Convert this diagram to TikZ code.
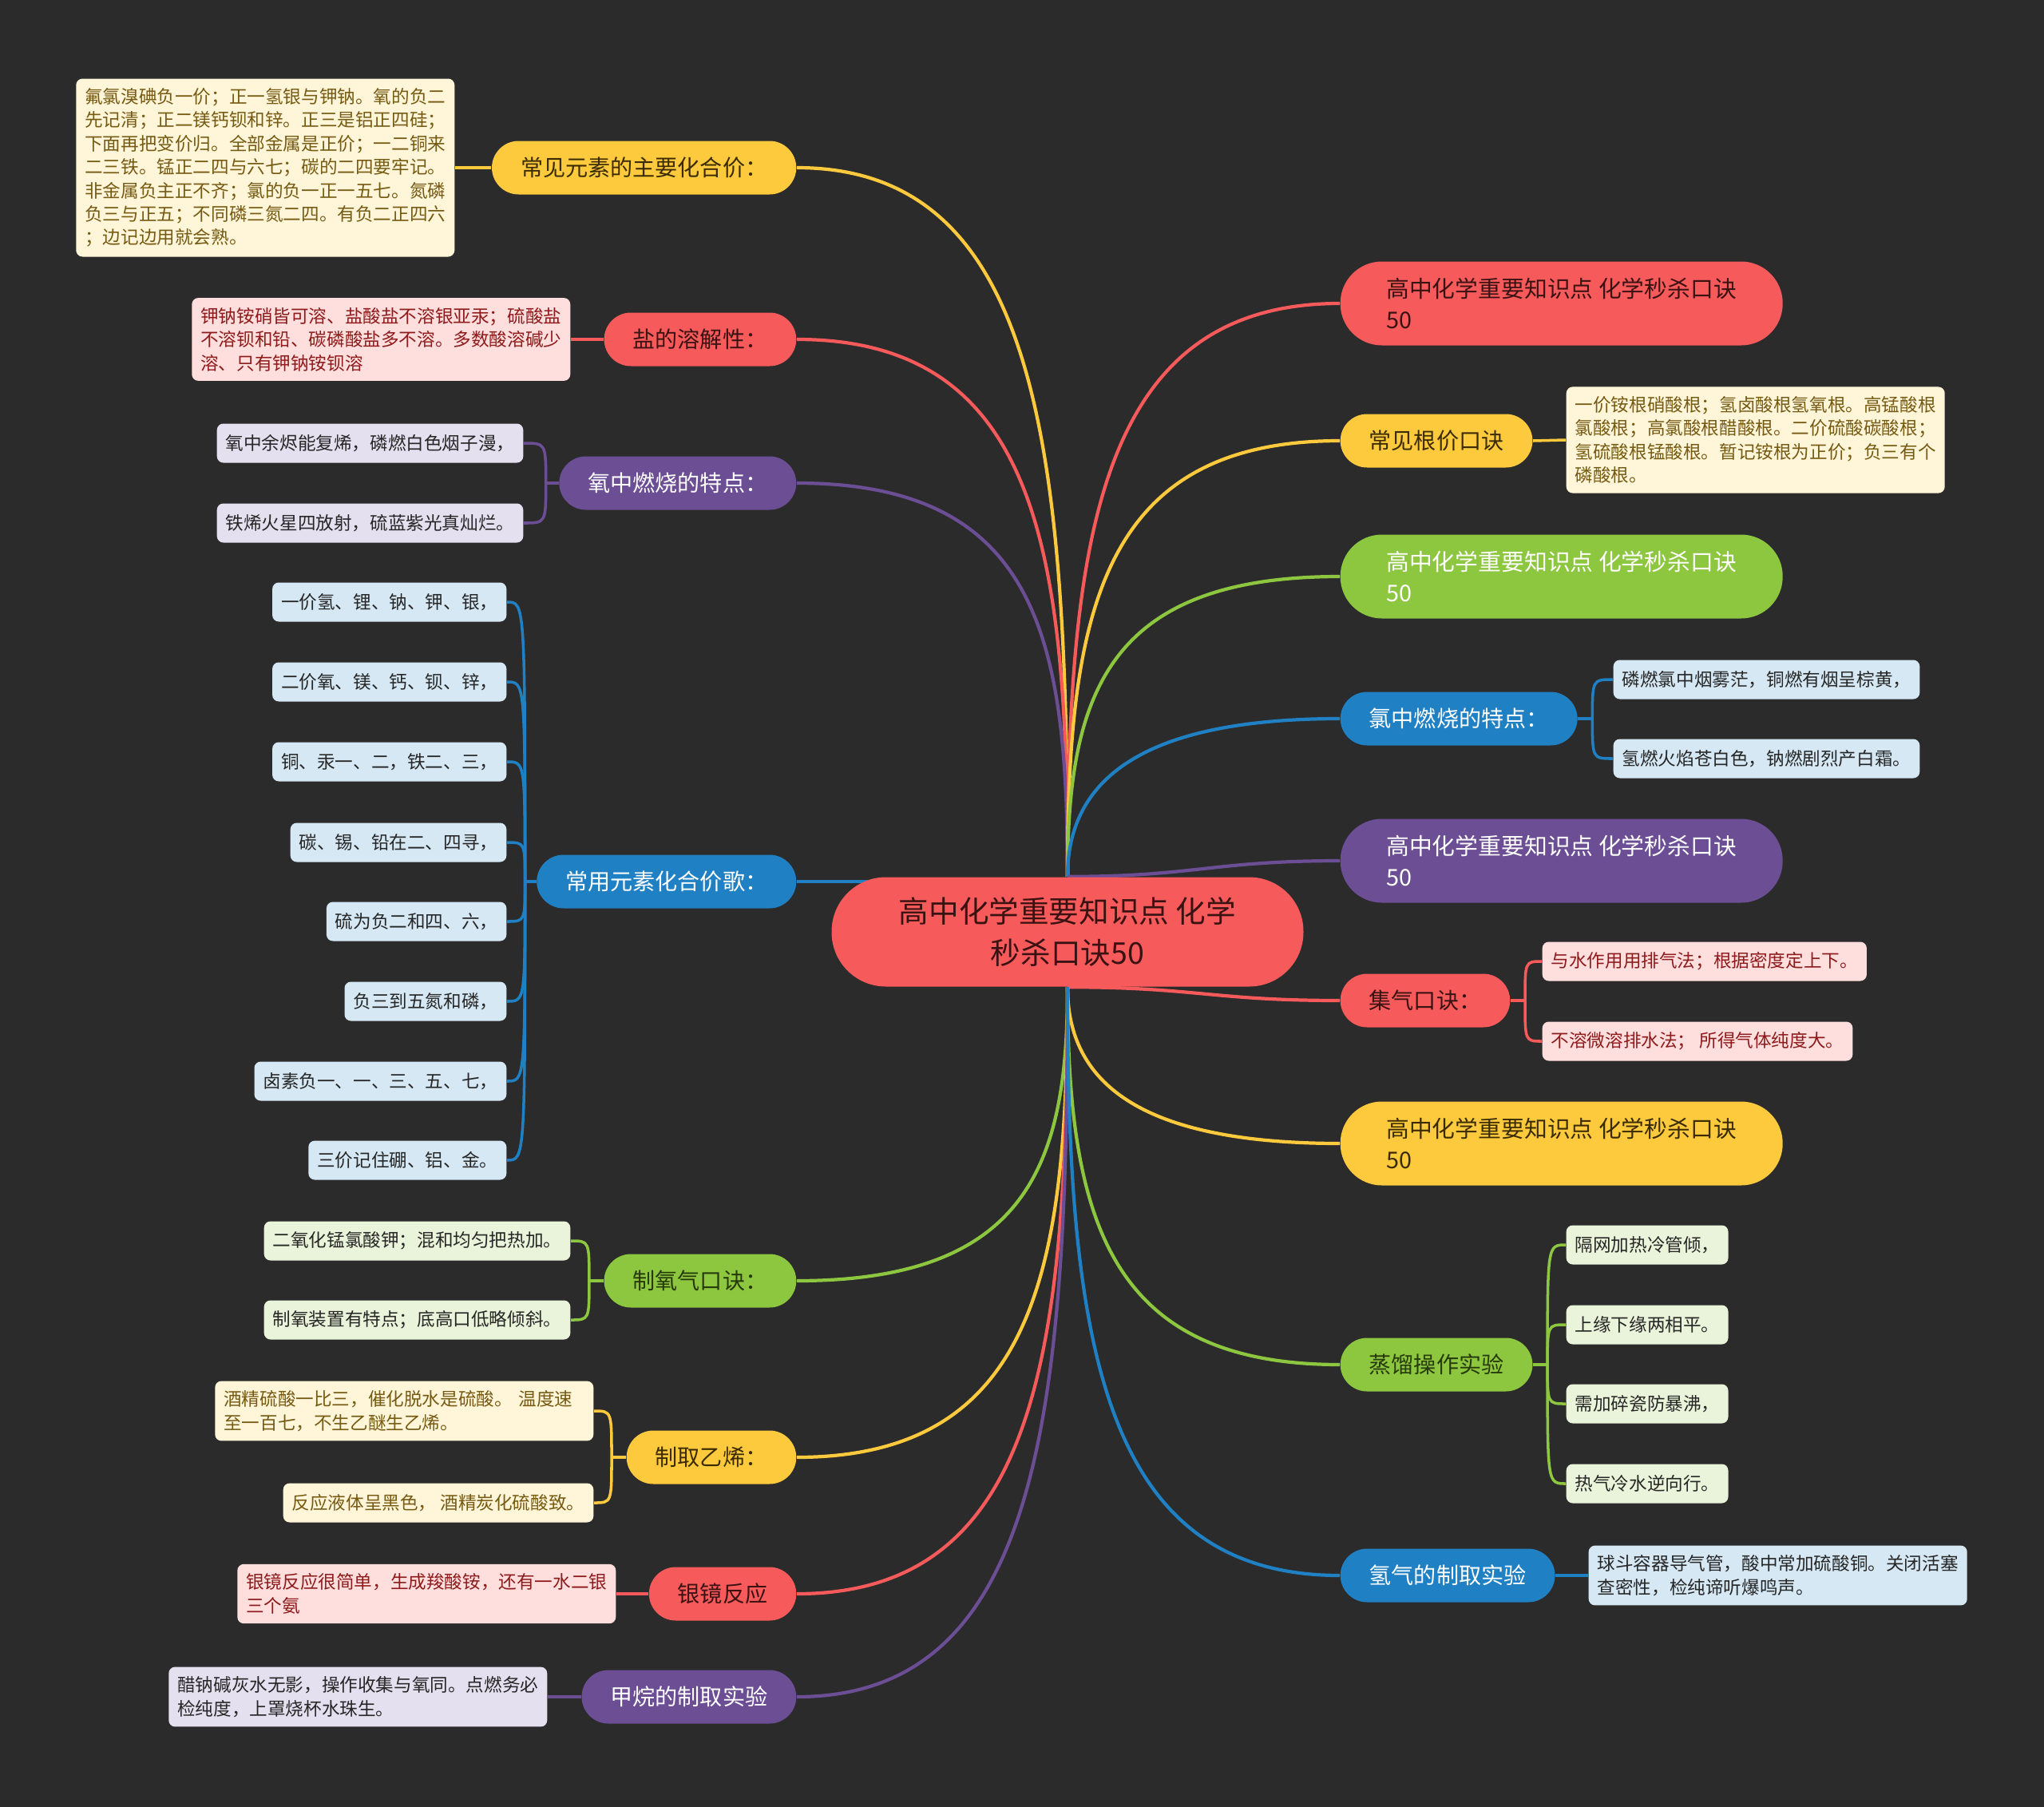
\documentclass[tikz,border=0pt]{standalone}
\usepackage{fontspec}
\setmainfont{Noto Sans CJK SC}
\usetikzlibrary{positioning, calc}
\usepackage{xcolor}
\definecolor{mapbg}{HTML}{2B2B2B}
\definecolor{mapred}{HTML}{F65A5B}
\definecolor{mapyellow}{HTML}{FDC93D}
\definecolor{mappurple}{HTML}{6B4E94}
\definecolor{mapblue}{HTML}{1F80C4}
\definecolor{mapgreen}{HTML}{8DC63F}
\definecolor{redink}{HTML}{3A1212}
\definecolor{yellowink}{HTML}{3A2C00}
\definecolor{greenink}{HTML}{263A0A}
\definecolor{leafyellow}{HTML}{FFF6DA}
\definecolor{leafred}{HTML}{FFDEDE}
\definecolor{leafpurple}{HTML}{E4E0EF}
\definecolor{leafblue}{HTML}{D5E8F4}
\definecolor{leafgreen}{HTML}{EAF4DA}
\definecolor{brownink}{HTML}{765A12}
\definecolor{wineink}{HTML}{8E1B1B}
\pgfdeclarelayer{bg}
\pgfdeclarelayer{lines}
\pgfsetlayers{bg,lines,main}

\begin{document}
\begin{tikzpicture}[
  root/.style={
    rectangle, rounded corners=0.68cm,
    minimum width=5.91cm, minimum height=1.37cm,
    fill=mapred, text=redink, align=center,
    font=\fontsize{10.7}{14.9}\selectfont
  },
  topic/.style={
    rectangle, rounded corners=0.335cm,
    minimum height=0.67cm, inner xsep=0.36cm, inner ysep=0pt,
    font=\fontsize{8}{11}\selectfont
  },
  bigtopic/.style={
    rectangle, rounded corners=0.52cm,
    minimum height=1.05cm, minimum width=5.54cm, inner xsep=0.52cm, align=left,
    font=\fontsize{8.2}{11.1}\selectfont
  },
  leaf/.style={
    rectangle, rounded corners=0.08cm,
    minimum height=0.49cm, inner xsep=0.11cm, inner ysep=0.12cm,
    align=left, font=\fontsize{6.43}{8.36}\selectfont
  },
  wide/.style={text width=4.52cm},
  rtopic/.style={topic, fill=mapred, text=redink},
  ytopic/.style={topic, fill=mapyellow, text=yellowink},
  ptopic/.style={topic, fill=mappurple, text=white},
  btopic/.style={topic, fill=mapblue, text=white},
  gtopic/.style={topic, fill=mapgreen, text=greenink},
  rleaf/.style={leaf, fill=leafred, text=wineink},
  yleaf/.style={leaf, fill=leafyellow, text=brownink},
  pleaf/.style={leaf, fill=leafpurple, text=black!85},
  bleaf/.style={leaf, fill=leafblue, text=black!85},
  gleaf/.style={leaf, fill=leafgreen, text=black!85},
  link/.style={line width=1.2pt},
  twig/.style={line width=1pt}
]
  \useasboundingbox (0,0) rectangle (25.6,-22.63);
  \begin{pgfonlayer}{bg}
    \fill[mapbg] (0,0) rectangle (25.6,-22.63);
  \end{pgfonlayer}

  \node[root] (root) at (13.37,-11.67) {高中化学重要知识点 化学\\秒杀口诀50};

  % left side
  \node[ytopic, anchor=east] (valence) at (9.98,-2.10) {常见元素的主要化合价：};
  \node[rtopic, anchor=east] (salt) at (9.98,-4.25) {盐的溶解性：};
  \node[ptopic, anchor=east] (oxy) at (9.98,-6.05) {氧中燃烧的特点：};
  \node[btopic, anchor=east] (song) at (9.98,-11.04) {常用元素化合价歌：};
  \node[gtopic, anchor=east] (otwo) at (9.98,-16.04) {制氧气口诀：};
  \node[ytopic, anchor=east] (ethene) at (9.98,-18.25) {制取乙烯：};
  \node[rtopic, anchor=east] (mirror) at (9.98,-19.96) {银镜反应};
  \node[ptopic, anchor=east] (methane) at (9.98,-21.25) {甲烷的制取实验};

  \node[yleaf, wide, anchor=east] (valence1) at (5.70,-2.10) {氟氯溴碘负一价；正一氢银与钾钠。氧的负二\\先记清；正二镁钙钡和锌。正三是铝正四硅；\\下面再把变价归。全部金属是正价；一二铜来\\二三铁。锰正二四与六七；碳的二四要牢记。\\非金属负主正不齐；氯的负一正一五七。氮磷\\负三与正五；不同磷三氮二四。有负二正四六\\；边记边用就会熟。};
  \node[rleaf, wide, anchor=east] (salt1) at (7.15,-4.25) {钾钠铵硝皆可溶、盐酸盐不溶银亚汞；硫酸盐\\不溶钡和铅、碳磷酸盐多不溶。多数酸溶碱少\\溶、只有钾钠铵钡溶};
  \node[pleaf, anchor=east] (oxy1) at (6.56,-5.55) {氧中余烬能复烯，磷燃白色烟子漫，};
  \node[pleaf, anchor=east] (oxy2) at (6.56,-6.55) {铁烯火星四放射，硫蓝紫光真灿烂。};
  \node[bleaf, anchor=east] (song1) at (6.35,-7.54) {一价氢、锂、钠、钾、银，};
  \node[bleaf, anchor=east] (song2) at (6.35,-8.54) {二价氧、镁、钙、钡、锌，};
  \node[bleaf, anchor=east] (song3) at (6.35,-9.54) {铜、汞一、二，铁二、三，};
  \node[bleaf, anchor=east] (song4) at (6.35,-10.55) {碳、锡、铅在二、四寻，};
  \node[bleaf, anchor=east] (song5) at (6.35,-11.54) {硫为负二和四、六，};
  \node[bleaf, anchor=east] (song6) at (6.35,-12.54) {负三到五氮和磷，};
  \node[bleaf, anchor=east] (song7) at (6.35,-13.54) {卤素负一、一、三、五、七，};
  \node[bleaf, anchor=east] (song8) at (6.35,-14.53) {三价记住硼、铝、金。};
  \node[gleaf, anchor=east] (otwo1) at (7.15,-15.54) {二氧化锰氯酸钾；混和均匀把热加。};
  \node[gleaf, anchor=east] (otwo2) at (7.15,-16.53) {制氧装置有特点；底高口低略倾斜。};
  \node[yleaf, wide, anchor=east] (ethene1) at (7.44,-17.67) {酒精硫酸一比三，催化脱水是硫酸。 温度速\\至一百七，不生乙醚生乙烯。};
  \node[yleaf, anchor=east] (ethene2) at (7.44,-18.82) {反应液体呈黑色， 酒精炭化硫酸致。};
  \node[rleaf, wide, anchor=east] (mirror1) at (7.72,-19.96) {银镜反应很简单，生成羧酸铵，还有一水二银\\三个氨};
  \node[pleaf, wide, anchor=east] (methane1) at (6.86,-21.25) {醋钠碱灰水无影，操作收集与氧同。点燃务必\\检纯度，上罩烧杯水珠生。};

  % right side
  \node[bigtopic, fill=mapred, text=redink, anchor=west] (titleA) at (16.78,-3.80) {高中化学重要知识点 化学秒杀口诀\\50};
  \node[ytopic, anchor=west] (radical) at (16.78,-5.52) {常见根价口诀};
  \node[bigtopic, fill=mapgreen, text=white, anchor=west] (titleB) at (16.78,-7.22) {高中化学重要知识点 化学秒杀口诀\\50};
  \node[btopic, anchor=west] (chlor) at (16.78,-9.00) {氯中燃烧的特点：};
  \node[bigtopic, fill=mappurple, text=white, anchor=west] (titleC) at (16.78,-10.78) {高中化学重要知识点 化学秒杀口诀\\50};
  \node[rtopic, anchor=west] (gas) at (16.78,-12.53) {集气口诀：};
  \node[bigtopic, fill=mapyellow, text=yellowink, anchor=west] (titleD) at (16.78,-14.32) {高中化学重要知识点 化学秒杀口诀\\50};
  \node[gtopic, anchor=west] (distil) at (16.78,-17.09) {蒸馏操作实验};
  \node[btopic, anchor=west] (hydro) at (16.78,-19.73) {氢气的制取实验};

  \node[yleaf, wide, anchor=west] (radical1) at (19.61,-5.51) {一价铵根硝酸根；氢卤酸根氢氧根。高锰酸根\\氯酸根；高氯酸根醋酸根。二价硫酸碳酸根；\\氢硫酸根锰酸根。暂记铵根为正价；负三有个\\磷酸根。};
  \node[bleaf, anchor=west] (chlor1) at (20.20,-8.51) {磷燃氯中烟雾茫，铜燃有烟呈棕黄，};
  \node[bleaf, anchor=west] (chlor2) at (20.20,-9.50) {氢燃火焰苍白色，钠燃剧烈产白霜。};
  \node[rleaf, anchor=west] (gas1) at (19.31,-12.04) {与水作用用排气法；根据密度定上下。};
  \node[rleaf, anchor=west] (gas2) at (19.31,-13.04) {不溶微溶排水法； 所得气体纯度大。};
  \node[gleaf, anchor=west] (distil1) at (19.61,-15.59) {隔网加热冷管倾，};
  \node[gleaf, anchor=west] (distil2) at (19.61,-16.59) {上缘下缘两相平。};
  \node[gleaf, anchor=west] (distil3) at (19.61,-17.58) {需加碎瓷防暴沸，};
  \node[gleaf, anchor=west] (distil4) at (19.61,-18.58) {热气冷水逆向行。};
  \node[bleaf, wide, anchor=west] (hydro1) at (19.89,-19.73) {球斗容器导气管，酸中常加硫酸铜。关闭活塞\\查密性，检纯谛听爆鸣声。};

  % junctions
  \coordinate[left=0.16cm of oxy.west] (oxyj);
  \coordinate[left=0.14cm of song.west] (songj);
  \coordinate[left=0.18cm of otwo.west] (otwoj);
  \coordinate[left=0.18cm of ethene.west] (ethenej);
  \coordinate[right=0.18cm of chlor.east] (chlorj);
  \coordinate[right=0.18cm of gas.east] (gasj);
  \coordinate[right=0.18cm of distil.east] (distilj);

  \begin{pgfonlayer}{lines}
    % main branches
    \draw[link, mapyellow] (root.north) .. controls +(0,5.3) and +(3.05,0) .. (valence.east);
    \draw[link, mapred] (root.north) .. controls +(0,4.0) and +(3.05,0) .. (salt.east);
    \draw[link, mappurple] (root.north) .. controls +(0,3.0) and +(3.0,0) .. (oxy.east);
    \draw[link, mapblue] (song.east) -- (song.east -| root.center);
    \draw[link, mapgreen] (root.south) .. controls +(0,-2.2) and +(2.9,0) .. (otwo.east);
    \draw[link, mapyellow] (root.south) .. controls +(0,-3.5) and +(3.0,0) .. (ethene.east);
    \draw[link, mapred] (root.south) .. controls +(0,-4.6) and +(3.0,0) .. (mirror.east);
    \draw[link, mappurple] (root.south) .. controls +(0,-5.3) and +(3.05,0) .. (methane.east);
    \draw[link, mapred] (root.north) .. controls +(0,4.3) and +(-3.0,0) .. (titleA.west);
    \draw[link, mapyellow] (root.north) .. controls +(0,3.3) and +(-3.0,0) .. (radical.west);
    \draw[link, mapgreen] (root.north) .. controls +(0,2.3) and +(-2.9,0) .. (titleB.west);
    \draw[link, mapblue] (root.north) .. controls +(0,1.2) and +(-2.5,0) .. (chlor.west);
    \draw[link, mappurple] (root.north) .. controls +(1.6,0) and +(-1.6,0) .. (titleC.west);
    \draw[link, mapred] (root.south) .. controls +(1.6,0) and +(-1.6,0) .. (gas.west);
    \draw[link, mapyellow] (root.south) .. controls +(0,-1.2) and +(-2.5,0) .. (titleD.west);
    \draw[link, mapgreen] (root.south) .. controls +(0,-2.9) and +(-2.9,0) .. (distil.west);
    \draw[link, mapblue] (root.south) .. controls +(0,-4.4) and +(-3.0,0) .. (hydro.west);

    % leaves
    \draw[twig, mapyellow] (valence.west) -- (valence1.east);
    \draw[twig, mapred] (salt.west) -- (salt1.east);
    \draw[twig, mappurple] (oxy.west) -- (oxyj);
    \draw[twig, mappurple] (oxyj) .. controls (oxyj |- oxy1.east) and (oxyj |- oxy1.east) .. (oxy1.east);
    \draw[twig, mappurple] (oxyj) .. controls (oxyj |- oxy2.east) and (oxyj |- oxy2.east) .. (oxy2.east);
    \draw[twig, mapblue] (song.west) -- (songj);
    \draw[twig, mapblue] (songj) .. controls (songj |- song1.east) and (songj |- song1.east) .. (song1.east);
    \draw[twig, mapblue] (songj) .. controls (songj |- song2.east) and (songj |- song2.east) .. (song2.east);
    \draw[twig, mapblue] (songj) .. controls (songj |- song3.east) and (songj |- song3.east) .. (song3.east);
    \draw[twig, mapblue] (songj) .. controls (songj |- song4.east) and (songj |- song4.east) .. (song4.east);
    \draw[twig, mapblue] (songj) .. controls (songj |- song5.east) and (songj |- song5.east) .. (song5.east);
    \draw[twig, mapblue] (songj) .. controls (songj |- song6.east) and (songj |- song6.east) .. (song6.east);
    \draw[twig, mapblue] (songj) .. controls (songj |- song7.east) and (songj |- song7.east) .. (song7.east);
    \draw[twig, mapblue] (songj) .. controls (songj |- song8.east) and (songj |- song8.east) .. (song8.east);
    \draw[twig, mapgreen] (otwo.west) -- (otwoj);
    \draw[twig, mapgreen] (otwoj) .. controls (otwoj |- otwo1.east) and (otwoj |- otwo1.east) .. (otwo1.east);
    \draw[twig, mapgreen] (otwoj) .. controls (otwoj |- otwo2.east) and (otwoj |- otwo2.east) .. (otwo2.east);
    \draw[twig, mapyellow] (ethene.west) -- (ethenej);
    \draw[twig, mapyellow] (ethenej) .. controls (ethenej |- ethene1.east) and (ethenej |- ethene1.east) .. (ethene1.east);
    \draw[twig, mapyellow] (ethenej) .. controls (ethenej |- ethene2.east) and (ethenej |- ethene2.east) .. (ethene2.east);
    \draw[twig, mapred] (mirror.west) -- (mirror1.east);
    \draw[twig, mappurple] (methane.west) -- (methane1.east);
    \draw[twig, mapyellow] (radical.east) -- (radical1.west);
    \draw[twig, mapblue] (chlor.east) -- (chlorj);
    \draw[twig, mapblue] (chlorj) .. controls (chlorj |- chlor1.west) and (chlorj |- chlor1.west) .. (chlor1.west);
    \draw[twig, mapblue] (chlorj) .. controls (chlorj |- chlor2.west) and (chlorj |- chlor2.west) .. (chlor2.west);
    \draw[twig, mapred] (gas.east) -- (gasj);
    \draw[twig, mapred] (gasj) .. controls (gasj |- gas1.west) and (gasj |- gas1.west) .. (gas1.west);
    \draw[twig, mapred] (gasj) .. controls (gasj |- gas2.west) and (gasj |- gas2.west) .. (gas2.west);
    \draw[twig, mapgreen] (distil.east) -- (distilj);
    \draw[twig, mapgreen] (distilj) .. controls (distilj |- distil1.west) and (distilj |- distil1.west) .. (distil1.west);
    \draw[twig, mapgreen] (distilj) .. controls (distilj |- distil2.west) and (distilj |- distil2.west) .. (distil2.west);
    \draw[twig, mapgreen] (distilj) .. controls (distilj |- distil3.west) and (distilj |- distil3.west) .. (distil3.west);
    \draw[twig, mapgreen] (distilj) .. controls (distilj |- distil4.west) and (distilj |- distil4.west) .. (distil4.west);
    \draw[twig, mapblue] (hydro.east) -- (hydro1.west);
  \end{pgfonlayer}
\end{tikzpicture}
\end{document}
